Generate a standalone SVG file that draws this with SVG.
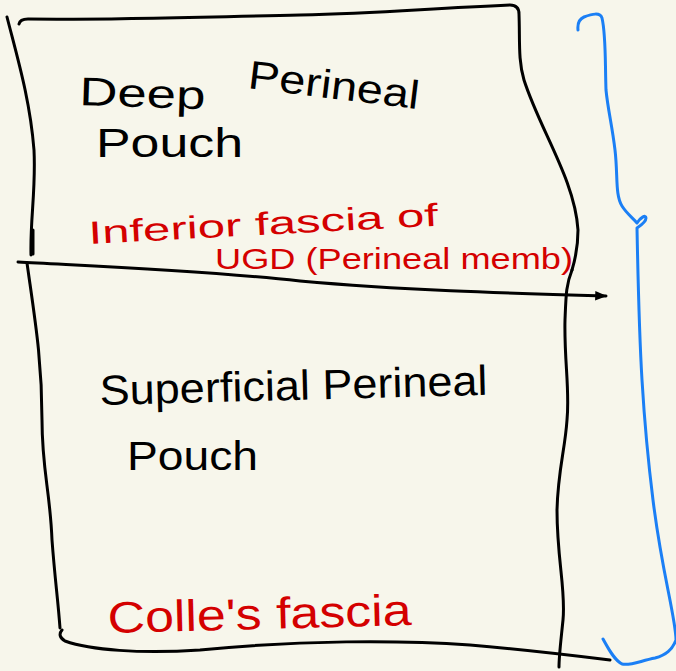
<svg xmlns="http://www.w3.org/2000/svg" width="676" height="671" viewBox="0 0 676 671">
  <style>
    .ink { fill: none; stroke: #000; stroke-width: 3; stroke-linecap: round; stroke-linejoin: round; }
    .brace { fill: none; stroke: #1b7ff5; stroke-width: 3; stroke-linecap: round; stroke-linejoin: round; }
    .lbl { font-family: "Liberation Sans", "DejaVu Sans", sans-serif; fill: #000; }
    .note { font-family: "Liberation Sans", "DejaVu Sans", sans-serif; fill: #d40000; }
  </style>
  <defs>
    <marker id="tip" viewBox="0 0 10 10" refX="9" refY="5" markerWidth="4" markerHeight="4" orient="auto">
      <path d="M0,1 L10,5 L0,9 Z" fill="#000"/>
    </marker>
  </defs>

  <rect width="676" height="671" fill="#f7f6eb"/>

  <!-- outer sketch of the perineal pouches -->
  <g id="outline">
    <!-- top edge -->
    <path class="ink" d="M19,24 Q20,19 28,19 C120,20 200,17 300,15 C380,13 420,9 510,5 Q519,5 519,14 C520,40 518,60 524,80 C540,130 575,180 578,230 Q578,250 572,270"/>
    <!-- left edge, upper part -->
    <path class="ink" d="M7,17 C18,60 30,100 34,150 C36,190 30,220 31,255"/>
    <path class="ink" d="M33,230 L33,254"/>
    <!-- dividing membrane with arrow -->
    <path class="ink" marker-end="url(#tip)" d="M18,262 C90,266 200,270 300,281 C400,290 500,293 606,296"/>
    <!-- left edge, lower part -->
    <path class="ink" d="M27,263 C35,320 42,360 42,420 C42,470 50,490 52,540 C55,580 58,600 60,628"/>
    <!-- bottom edge -->
    <path class="ink" d="M62,630 Q57,636 65,641 C90,650 140,654 200,650 C300,640 400,640 470,645 C530,650 570,655 610,660"/>
    <!-- right edge, lower part -->
    <path class="ink" d="M572,270 C566,285 566,295 565,320 C564,360 570,390 567,420 C565,450 558,470 557,510 C557,560 566,590 563,620 C561,640 559,655 559,667"/>
  </g>

  <!-- brace on the right -->
  <g id="brace">
    <path class="brace" d="M578,30 Q577,20 584,17 C592,14 600,12 602,18 C606,35 605,60 606,90 C608,110 612,125 615,150 C618,175 615,195 622,206 C627,214 633,218 637,223 C640,218 646,214 646,218 C646,222 640,226 637,228 C638,280 639,330 642,380 C645,430 648,460 653,500 C658,540 662,560 668,590 C672,610 676,630 676,640 C672,650 666,655 655,658 C640,661 630,666 622,664 C614,660 608,648 603,639"/>
  </g>

  <!-- labels -->
  <g id="deep-pouch">
    <text class="lbl" x="79" y="105" font-size="40" textLength="126" lengthAdjust="spacingAndGlyphs" transform="rotate(2 79 105)">Deep</text>
    <text class="lbl" x="247" y="88" font-size="40" textLength="172" lengthAdjust="spacingAndGlyphs" transform="rotate(7 247 88)">Perineal</text>
    <text class="lbl" x="96" y="157" font-size="40" textLength="147" lengthAdjust="spacingAndGlyphs">Pouch</text>
  </g>
  <g id="inferior-fascia">
    <text class="note" x="89" y="244" font-size="32" textLength="350" lengthAdjust="spacingAndGlyphs" transform="rotate(-3 89 244)">Inferior fascia of</text>
    <text class="note" x="215" y="269" font-size="30" textLength="358" lengthAdjust="spacingAndGlyphs">UGD (Perineal memb)</text>
  </g>
  <g id="superficial-pouch">
    <text class="lbl" x="100" y="405" font-size="42" textLength="388" lengthAdjust="spacingAndGlyphs" transform="rotate(-1.5 100 405)">Superficial Perineal</text>
    <text class="lbl" x="127" y="470" font-size="40" textLength="131" lengthAdjust="spacingAndGlyphs">Pouch</text>
  </g>
  <g id="colles-fascia">
    <text class="note" x="108" y="633" font-size="44" textLength="304" lengthAdjust="spacingAndGlyphs" transform="rotate(-1.5 108 633)">Colle's fascia</text>
  </g>
</svg>
